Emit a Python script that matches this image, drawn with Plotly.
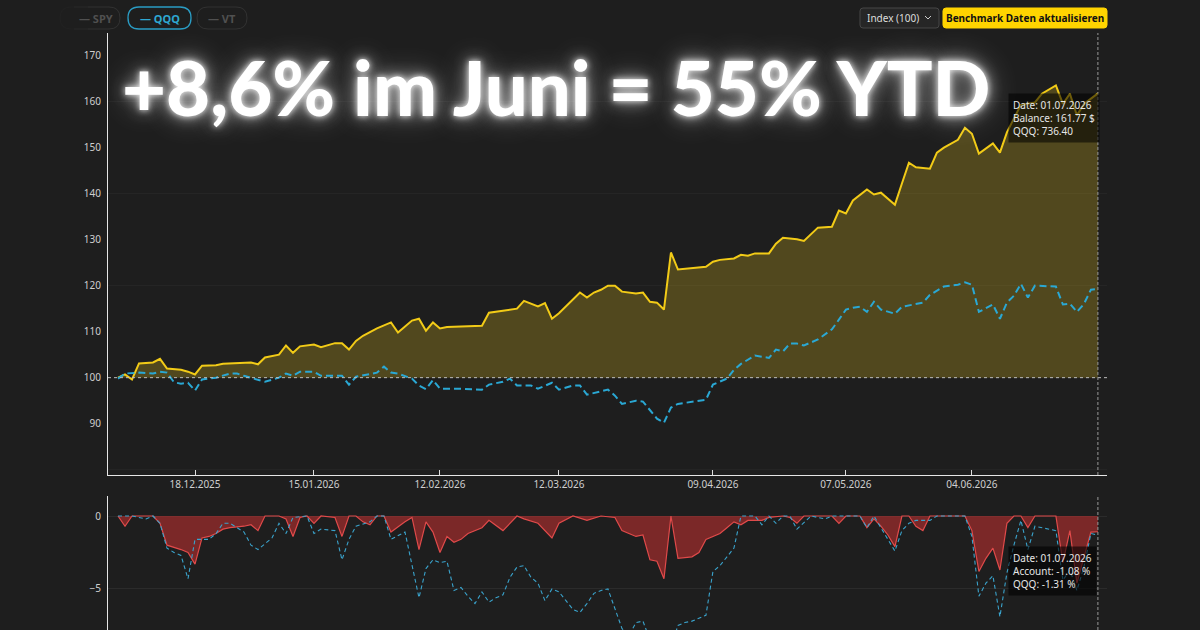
import plotly.graph_objects as go

W, H = 1200, 630

# ---------------- data (trading-day index -> value) ----------------
bal_day = [0, 1, 2, 3, 5, 6, 7, 9, 10, 11, 12, 14, 15, 19, 20, 21, 23, 24, 25, 26, 28, 29, 31, 32, 33, 34,
           35, 37, 39, 40, 42, 43, 44, 45, 46, 47, 50, 52, 53, 55, 57, 58, 60, 61, 62, 63, 66, 67, 68, 69,
           70, 71, 72, 74, 75, 76, 77, 78, 79, 80, 84, 85, 86, 88, 89, 90, 91, 93, 94, 95, 97, 98, 100,
           102, 103, 104, 105, 107, 108, 109, 111, 112, 113, 114, 116, 117, 118, 120, 121, 122, 123, 125,
           126, 127, 128, 129, 131, 132, 134, 135, 136, 137, 138, 139, 140]
bal_val = [100.0, 100.7, 99.6, 103.1, 103.3, 104.1, 102.0, 101.7, 101.3, 100.7, 102.6, 102.7, 103.0, 103.3,
           102.9, 104.4, 105.0, 107.0, 105.4, 106.8, 107.2, 106.6, 107.5, 107.5, 106.1, 108.0,
           109.1, 110.7, 112.0, 109.8, 112.4, 112.8, 110.2, 112.0, 110.7, 111.0, 111.2, 111.3, 114.1, 114.5,
           115.0, 116.7, 115.5, 116.2, 112.8, 114.0, 118.5, 117.4, 118.5, 119.1,
           120.0, 120.0, 118.7, 118.3, 118.5, 116.5, 116.3, 114.8, 127.2, 123.5, 124.1, 125.2, 125.6, 125.9,
           126.7, 126.5, 127.0, 127.0, 129.1, 130.4, 130.1, 129.7, 132.6,
           132.8, 136.3, 135.7, 138.5, 140.9, 139.8, 140.2, 137.6, 142.2, 146.7, 145.7, 145.4, 148.9, 150.0,
           151.7, 154.3, 153.0, 148.7, 150.9,
           148.9, 153.3, 156.3, 159.3, 159.8, 161.7, 163.5, 159.5, 161.7, 157.0, 159.5, 160.7, 161.77]

qqq_day = [0, 1, 3, 5, 6, 7, 8, 9, 10, 11, 12, 14, 16, 17, 18, 20, 21, 23, 24, 25, 26, 28, 29, 32, 33, 34,
           36, 37, 38, 39, 40, 42, 43, 44, 45, 46, 49, 52, 53, 55, 56, 57, 59, 60, 62, 63, 65, 66, 67, 70,
           71, 72, 74, 75, 77, 78, 79, 80, 84, 85, 87, 88, 89, 91, 93, 94, 95, 96, 97, 98, 100, 101, 102,
           103, 104, 105, 106, 107, 108, 109, 111, 112, 114, 115, 116, 117, 118, 120, 121, 122, 123, 125,
           126, 127, 128, 129, 130, 131, 134, 135, 136, 137, 138, 139, 140]
qqq_val = [99.8, 100.9, 101.1, 100.9, 101.3, 101.1, 99.0, 98.7, 98.9, 97.2, 99.6, 100.0, 100.9, 100.9, 100.4,
           99.6, 99.1, 100.0, 100.9, 100.4, 101.3, 101.3, 100.4, 100.4, 98.5, 100.2,
           100.9, 101.1, 102.4, 101.1, 100.9, 99.8, 98.3, 97.5, 99.5, 97.6, 97.6, 97.4, 98.5, 99.1, 99.8, 98.3,
           98.3, 97.6, 98.9, 97.4, 98.3, 98.3, 96.3, 97.4,
           96.1, 94.3, 95.0, 94.8, 91.1, 90.2, 93.5, 94.3, 95.2, 98.5, 99.8, 101.7, 103.0, 104.8, 104.3, 106.1,
           105.7, 107.4, 107.4, 107.0, 108.3, 109.5, 110.5,
           112.6, 114.8, 115.2, 115.4, 114.3, 116.5, 114.8, 113.9, 115.4, 116.1, 116.3, 118.0, 118.9, 119.8,
           120.2, 120.7, 120.2, 114.3, 115.9,
           112.8, 116.3, 117.8, 120.4, 117.4, 120.0, 119.8, 115.9, 116.1, 114.3, 116.0, 119.1, 119.3]

acc_dd_day = [0, 1, 2, 5, 6, 7, 9, 10, 11, 12, 13, 14, 15, 16, 18, 19, 20, 21, 23, 24, 25, 26, 27, 28, 29,
              31, 32, 33, 34, 35, 36, 37, 38, 39, 41, 42, 43, 44, 45, 46, 47, 48, 49, 50, 52, 53, 55, 57,
              58, 60, 62, 63, 65, 67, 69, 71, 72, 74, 75, 76, 77, 78, 79, 80, 82, 83, 84, 85, 86, 87, 88,
              89, 90, 92, 93, 95, 96, 97, 98, 102, 103, 104, 106, 107, 108, 109, 110, 111, 112, 113, 114,
              115, 116, 121, 122, 123, 124, 125, 126, 127, 128, 129, 130, 131, 134, 135, 136, 137, 139, 140]
acc_dd_val = [0, -0.7, 0, 0, -0.5, -2.0, -2.3, -2.5, -3.3, -1.5, -1.4, -1.2, -0.9, -0.8, -0.7, -0.6, -1.0, 0,
              0, -0.2, -1.4, -0.1, 0, -0.5, 0,
              -0.1, -1.4, 0, 0, -0.4, -0.6, 0, 0, -1.1, -0.4, -0.1, -2.3, -0.4, -1.1, -2.5, -1.4, -1.8, -1.6,
              -1.2, -0.8, -0.3, -1.0, 0,
              -0.2, -0.5, -1.5, -0.5, 0, -0.3, 0, -0.1, -1.0, -1.4, -1.3, -3.0, -3.1, -4.3, 0, -2.9, -2.8,
              -2.5, -1.6, -1.4, -1.2, -0.8, -0.4,
              -0.6, -0.3, -0.3, -0.1, 0, -0.1, -0.5, 0, 0, -0.5, 0, 0, -0.8, -0.2, -0.7, -1.3, -2.1, 0, 0, -0.7,
              -1.0, 0, 0, -1.0, -3.8, -2.9, -2.2, -3.7, -0.5, 0, 0, -0.8, 0, 0, -3.2, -1.0, -4.6, -1.1, -1.08]

qqq_dd_day = [0, 2, 4, 5, 6, 7, 8, 9, 10, 11, 13, 14, 15, 16, 18, 19, 20, 22, 23, 24, 25, 27, 28, 29, 31,
              32, 33, 34, 36, 37, 38, 39, 41, 43, 44, 45, 46, 47, 48, 49, 50, 51, 52, 53, 54, 55, 56, 57,
              58, 59, 60, 61, 62, 63, 64, 65, 66, 67, 68, 69, 70, 71, 72, 73, 74, 75, 76, 77, 78, 79, 80,
              81, 82, 83, 84, 85, 86, 87, 88, 89, 91, 92, 93, 94, 95, 96, 97, 99, 101, 102, 106, 107, 108,
              109, 110, 111, 112, 113, 114, 116, 117, 121, 122, 123, 124, 125, 126, 127, 128, 129, 130, 131,
              134, 135, 136, 137, 138, 139, 140]
qqq_dd_val = [0, 0, -0.2, 0, -0.5, -2.2, -2.5, -2.7, -4.3, -1.6, -1.6, -1.2, -0.5, -0.5, -1.1, -2.0, -2.3,
              -1.5, -0.5, -1.2, -0.1, 0, -1.2, -0.9, -1.0,
              -3.0, -1.6, -0.7, -0.4, 0, 0, -1.6, -1.1, -5.6, -3.6, -3.0, -3.2, -3.1, -5.1, -4.9, -5.5, -6.0,
              -5.2, -5.9, -5.6, -5.4, -4.2, -3.5,
              -3.4, -4.2, -4.6, -5.8, -5.0, -5.2, -5.8, -6.4, -6.6, -6.0, -5.3, -5.1, -5.0, -6.4, -7.7, -8.2,
              -7.3, -7.2, -8.5, -10.5, -11.5, -9.0, -7.5,
              -7.3, -7.2, -7.0, -6.8, -3.8, -3.4, -2.8, -2.2, 0, 0, -0.6, 0, -0.5, 0, 0, -0.9, 0, -0.2, 0, 0,
              -0.8, 0,
              -0.8, -1.6, -2.4, -1.0, -0.5, -0.3, -0.3, 0, 0, -1.4, -5.5, -4.6, -4.1, -6.9, -3.9, -2.0, -0.3,
              -2.3, -0.7,
              -1.0, -4.4, -3.7, -5.1, -3.5, -1.2, -1.31]

x_tick_days = [11, 28, 46, 63, 85, 104, 122]
x_tick_text = ["18.12.2025", "15.01.2026", "12.02.2026", "12.03.2026", "09.04.2026", "07.05.2026", "04.06.2026"]
y_ticks_main = [90, 100, 110, 120, 130, 140, 150, 160, 170]
y_grid_main = [80, 120, 140, 160]
y_ticks_dd = [0, -5]
BASE = 100

title_text = "+8,6% im Juni = 55% YTD"
tooltip_main = ["Date: 01.07.2026", "Balance: 161.77 $", "QQQ: 736.40"]
tooltip_dd = ["Date: 01.07.2026", "Account: -1.08 %", "QQQ: -1.31 %"]

# ---------------- colours ----------------
BG = "#1e1e1e"
YELLOW = "#f2cb17"
BLUE = "#2aa8d4"
RED = "#e04a4a"
FONT = "Noto Sans"


def px(x):
    return x / W


def py(y):
    return 1 - y / H


def P(x, y):
    return f"{px(x):.5f},{py(y):.5f}"


def rrect(x0, y0, x1, y1, r):
    return (f"M {P(x0 + r, y0)} L {P(x1 - r, y0)} Q {P(x1, y0)} {P(x1, y0 + r)} "
            f"L {P(x1, y1 - r)} Q {P(x1, y1)} {P(x1 - r, y1)} L {P(x0 + r, y1)} "
            f"Q {P(x0, y1)} {P(x0, y1 - r)} L {P(x0, y0 + r)} Q {P(x0, y0)} {P(x0 + r, y0)} Z")


fig = go.Figure()

# baseline (for fill)
fig.add_trace(go.Scatter(x=bal_day, y=[BASE] * len(bal_day), mode="lines",
                         line=dict(width=0, color="rgba(0,0,0,0)"), hoverinfo="skip",
                         showlegend=False, xaxis="x", yaxis="y"))
fig.add_trace(go.Scatter(x=bal_day, y=bal_val, mode="lines", fill="tonexty",
                         fillcolor="rgba(235,200,30,0.25)",
                         line=dict(color=YELLOW, width=2), showlegend=False, xaxis="x", yaxis="y"))
fig.add_trace(go.Scatter(x=qqq_day, y=qqq_val, mode="lines",
                         line=dict(color=BLUE, width=2, dash="7px,4px"), showlegend=False,
                         xaxis="x", yaxis="y"))
fig.add_trace(go.Scatter(x=acc_dd_day, y=acc_dd_val, mode="lines", fill="tozeroy",
                         fillcolor="rgba(200,50,50,0.55)",
                         line=dict(color=RED, width=1.2), showlegend=False, xaxis="x2", yaxis="y2"))
fig.add_trace(go.Scatter(x=qqq_dd_day, y=qqq_dd_val, mode="lines",
                         line=dict(color="#3aa3cc", width=1.1, dash="4px,3px"), showlegend=False,
                         xaxis="x2", yaxis="y2"))

x_dom = [px(108), px(1107)]
x_range = [-1.43, 141.3]
tickfont = dict(family=FONT, size=10, color="#cfcfcf")

shapes = []
# faint gridlines
for g in y_grid_main:
    shapes.append(dict(type="line", xref="x domain", yref="y", x0=0, x1=1, y0=g, y1=g,
                       line=dict(color="rgba(255,255,255,0.04)", width=1), layer="below"))
# baseline dashed
shapes.append(dict(type="line", xref="x domain", yref="y", x0=0, x1=1, y0=BASE, y1=BASE,
                   line=dict(color="#bdbdbd", width=1, dash="3px,3px")))
# crosshair
last_day = bal_day[-1]
shapes.append(dict(type="line", xref="x", yref="y domain", x0=last_day, x1=last_day, y0=0, y1=1,
                   line=dict(color="#9a9a9a", width=1, dash="3px,2px")))
shapes.append(dict(type="line", xref="x2", yref="y2 domain", x0=last_day, x1=last_day, y0=0, y1=1,
                   line=dict(color="#9a9a9a", width=1, dash="3px,2px")))

# top-left benchmark pills
shapes.append(dict(type="path", xref="paper", yref="paper", path=rrect(60, 7, 120, 29, 11),
                   line=dict(color="#323232", width=1)))
shapes.append(dict(type="path", xref="paper", yref="paper", path=rrect(128, 7, 191, 29, 11),
                   line=dict(color="#2a9cc4", width=1.3)))
shapes.append(dict(type="path", xref="paper", yref="paper", path=rrect(197, 7, 247, 29, 11),
                   line=dict(color="#323232", width=1)))
# dropdown + button
shapes.append(dict(type="path", xref="paper", yref="paper", path=rrect(860, 8, 939, 28, 3),
                   fillcolor="#262626", line=dict(color="#474747", width=1)))
shapes.append(dict(type="path", xref="paper", yref="paper",
                   path=f"M {P(925, 16)} L {P(928, 19)} L {P(931, 16)}",
                   line=dict(color="#cfcfcf", width=1)))
shapes.append(dict(type="path", xref="paper", yref="paper", path=rrect(943, 8, 1107, 28, 3),
                   fillcolor="#ffd400", line=dict(color="#ffd400", width=1)))

annotations = []
annotations.append(dict(text=title_text, xref="paper", yref="paper", x=px(120), y=py(87),
                        xanchor="left", yanchor="middle", showarrow=False,
                        font=dict(family="Lato", size=76, color="#ffffff", weight=900,
                                  shadow="0 0 6px rgba(255,255,255,0.9), 0 0 16px rgba(255,255,255,0.65), 0 0 32px rgba(255,255,255,0.4)")))

annotations.append(dict(text="<br>".join(tooltip_main), xref="paper", yref="paper", x=px(1008), y=py(93),
                        xanchor="left", yanchor="top", showarrow=False, align="left",
                        bgcolor="rgba(0,0,0,0.55)", borderpad=4,
                        font=dict(family=FONT, size=10, color="#e6e6e6")))
annotations.append(dict(text="<br>".join(tooltip_dd), xref="paper", yref="paper", x=px(1008), y=py(546),
                        xanchor="left", yanchor="top", showarrow=False, align="left",
                        bgcolor="rgba(0,0,0,0.6)", borderpad=4,
                        font=dict(family=FONT, size=10, color="#e6e6e6")))

pill_font = dict(family=FONT, size=11, weight=700)
annotations.append(dict(text="— SPY", xref="paper", yref="paper", x=px(96), y=py(18), showarrow=False,
                        xanchor="center", yanchor="middle", font=dict(**pill_font, color="#505050")))
annotations.append(dict(text="— QQQ", xref="paper", yref="paper", x=px(159.5), y=py(18), showarrow=False,
                        xanchor="center", yanchor="middle", font=dict(**pill_font, color="#2ea8d2")))
annotations.append(dict(text="— VT", xref="paper", yref="paper", x=px(222), y=py(18), showarrow=False,
                        xanchor="center", yanchor="middle", font=dict(**pill_font, color="#505050")))
annotations.append(dict(text="Index (100)", xref="paper", yref="paper", x=px(865), y=py(18), showarrow=False,
                        xanchor="left", yanchor="middle", font=dict(family=FONT, size=10, color="#dddddd")))
annotations.append(dict(text="Benchmark Daten aktualisieren", xref="paper", yref="paper", x=px(1025),
                        y=py(18), showarrow=False, xanchor="center", yanchor="middle",
                        font=dict(family=FONT, size=10, color="#111111", weight=700)))

# fade over left edge of SPY pill
shapes.append(dict(type="rect", xref="paper", yref="paper", x0=px(55), x1=px(74), y0=py(32), y1=py(4),
                   fillcolor="rgba(30,30,30,0.85)", line=dict(width=0)))
shapes.append(dict(type="rect", xref="paper", yref="paper", x0=px(74), x1=px(88), y0=py(32), y1=py(4),
                   fillcolor="rgba(30,30,30,0.45)", line=dict(width=0)))

fig.update_layout(
    width=W, height=H,
    margin=dict(l=0, r=0, t=0, b=0),
    paper_bgcolor=BG, plot_bgcolor=BG,
    showlegend=False,
    xaxis=dict(domain=x_dom, range=x_range, anchor="y", tickmode="array", tickvals=x_tick_days,
               ticktext=x_tick_text, ticks="inside", ticklen=5, tickcolor="#dddddd",
               showline=True, linecolor="#e6e6e6", linewidth=1, showgrid=False, zeroline=False,
               tickfont=tickfont),
    yaxis=dict(domain=[py(475), py(33)], range=[78.85, 174.9], anchor="x", tickmode="array",
               tickvals=y_ticks_main, showline=True, linecolor="#e6e6e6", linewidth=1, showgrid=False,
               zeroline=False, ticks="", tickfont=tickfont, ticklabelstandoff=4),
    xaxis2=dict(domain=x_dom, range=x_range, anchor="y2", matches="x", showticklabels=False,
                showline=False, showgrid=False, zeroline=False, ticks=""),
    yaxis2=dict(domain=[0, py(496)], range=[-7.81, 1.37], anchor="x2", tickmode="array",
                tickvals=y_ticks_dd, showline=True, linecolor="#e6e6e6", linewidth=1, showgrid=True,
                gridcolor="rgba(255,255,255,0.06)", zeroline=False, ticks="", tickfont=tickfont,
                ticklabelstandoff=4),
    shapes=shapes,
    annotations=annotations,
)

fig.write_html("out.html")
